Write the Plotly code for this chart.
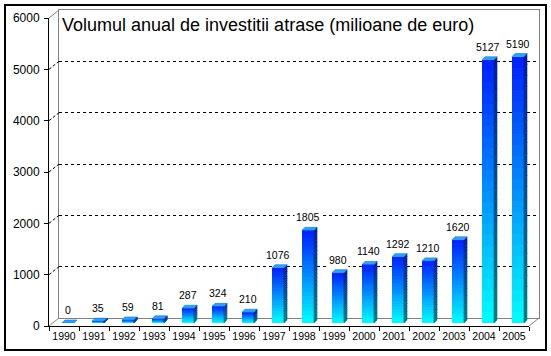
import plotly.graph_objects as go

# ---------------- data ----------------
years = ["1990", "1991", "1992", "1993", "1994", "1995", "1996", "1997",
         "1998", "1999", "2000", "2001", "2002", "2003", "2004", "2005"]
values = [0, 35, 59, 81, 287, 324, 210, 1076, 1805, 980, 1140, 1292, 1210, 1620, 5127, 5190]
y_ticks = [0, 1000, 2000, 3000, 4000, 5000, 6000]
title_text = "Volumul anual de investitii atrase (milioane de euro)"

# ---------------- geometry (pixels) ----------------
W, H = 551, 356
L, R, T, B = 49, 12, 10, 30
PW, PH = W - L - R, H - T - B           # 490 x 316
DEPTH_X, DEPTH_Y = 10, 8                 # back-wall offset
SCALE_PX = 308                           # pixels for 0..6000
YMAX = 6000
N_LEVELS = 24
BAR_W = 0.4
FACE_DX = 0.1                            # side depth in category units (3px)
FACE_DY = 3 * YMAX / SCALE_PX            # side depth in value units (3px)

FONT = "Liberation Sans, Arial, sans-serif"


def front_color(t):
    g = int(round(255 - 225 * t))
    return f"rgb(0,{g},255)"


def side_color(t):
    g = int(round(128 - 100 * t))
    b = int(round(128 + 32 * t))
    return f"rgb(0,{g},{b})"


def py(px_from_top):
    """paper y for a pixel row"""
    return (T + PH - px_from_top) / PH


def px(px_from_left):
    return (px_from_left - L) / PW


fig = go.Figure()
idx = list(range(len(years)))

# dummy trace to build front category axis
fig.add_trace(go.Scatter(x=years, y=[0] * len(years), mode="markers",
                         marker=dict(opacity=0), hoverinfo="skip",
                         showlegend=False, xaxis="x", yaxis="y"))
# dummy trace for back wall subplot
fig.add_trace(go.Scatter(x=[0, 1], y=[0, 0], mode="markers",
                         marker=dict(opacity=0), hoverinfo="skip",
                         showlegend=False, xaxis="x2", yaxis="y2"))

# front faces: stacked gradient segments
for k in range(N_LEVELS):
    t = (k + 0.5) / N_LEVELS
    fig.add_trace(go.Bar(x=idx, y=[v / N_LEVELS for v in values], width=BAR_W,
                         marker=dict(color=front_color(t), line=dict(width=0)),
                         hoverinfo="skip", showlegend=False,
                         xaxis="x3", yaxis="y3"))

# side faces: gradient polygons
for k in range(N_LEVELS):
    t = (k + 0.5) / N_LEVELS
    xs, ys = [], []
    for i, v in zip(idx, values):
        if v <= 0:
            continue
        xr = i + BAR_W / 2
        y0 = v * k / N_LEVELS
        y1 = v * (k + 1) / N_LEVELS
        xs += [xr, xr + FACE_DX, xr + FACE_DX, xr, xr, None]
        ys += [y0, y0 + FACE_DY, y1 + FACE_DY, y1, y0, None]
    fig.add_trace(go.Scatter(x=xs, y=ys, mode="lines", fill="toself",
                             fillcolor=side_color(t), line=dict(width=0.6, color=side_color(t)),
                             hoverinfo="skip", showlegend=False,
                             xaxis="x3", yaxis="y3"))

# top faces
xs, ys = [], []
for i, v in zip(idx, values):
    xl, xr = i - BAR_W / 2, i + BAR_W / 2
    xs += [xl, xl + FACE_DX, xr + FACE_DX, xr, xl, None]
    ys += [v, v + FACE_DY, v + FACE_DY, v, v, None]
fig.add_trace(go.Scatter(x=xs, y=ys, mode="lines", fill="toself",
                         fillcolor="rgb(51,160,255)", line=dict(width=0.6, color="rgb(0,120,200)"),
                         hoverinfo="skip", showlegend=False,
                         xaxis="x3", yaxis="y3"))

# value labels
annotations = []
for i, v in zip(idx, values):
    annotations.append(dict(x=i, y=v, xref="x3", yref="y3", text=str(v),
                            showarrow=False, yanchor="bottom", yshift=5,
                            bgcolor="white",
                            font=dict(family=FONT, size=10.5, color="black")))

# title inside back wall
annotations.append(dict(x=px(60), y=py(25), xref="paper", yref="paper",
                        text=title_text, showarrow=False, xanchor="left", yanchor="middle",
                        font=dict(family=FONT, size=18, color="black")))

# left-wall / floor diagonals
shapes = []
fy = SCALE_PX / PH
for v in y_ticks:
    yf = v / YMAX * fy
    yb = DEPTH_Y / PH + v / YMAX * fy
    inner = 0 < v < YMAX
    shapes.append(dict(type="line", xref="paper", yref="paper",
                       x0=0, y0=yf, x1=DEPTH_X / PW, y1=yb,
                       line=dict(color="black" if inner else "gray", width=1,
                                 dash="3px,2px" if inner else "solid")))
shapes.append(dict(type="line", xref="paper", yref="paper",
                   x0=(PW - DEPTH_X) / PW, y0=0, x1=1, y1=DEPTH_Y / PH,
                   line=dict(color="gray", width=1)))
# outer frame
shapes.append(dict(type="rect", xref="paper", yref="paper",
                   x0=px(5), x1=px(546), y0=py(350), y1=py(5),
                   line=dict(color="black", width=2)))

fig.update_layout(
    template="none",
    width=W, height=H,
    margin=dict(l=L, r=R, t=T, b=B, pad=0, autoexpand=False),
    paper_bgcolor="white", plot_bgcolor="rgba(0,0,0,0)",
    barmode="stack", bargap=0,
    showlegend=False, hovermode=False,
    font=dict(family=FONT, color="black"),
    annotations=annotations, shapes=shapes,
    xaxis=dict(domain=[0, (PW - DEPTH_X) / PW], type="category",
               categoryorder="array", categoryarray=years, anchor="y",
               range=[-0.5, len(years) - 0.5], tickson="boundaries",
               ticks="outside", ticklen=4, tickcolor="black", tickangle=0,
               showline=True, linecolor="black", linewidth=1, automargin=False,
               showgrid=False, zeroline=False, fixedrange=True,
               tickfont=dict(family=FONT, size=10.5, color="black")),
    yaxis=dict(domain=[0, SCALE_PX / PH], range=[0, YMAX], anchor="x",
               tickvals=y_ticks, ticks="outside", ticklen=4, tickcolor="black",
               showline=True, linecolor="black", linewidth=1, automargin=False,
               showgrid=False, zeroline=False, ticklabelstandoff=2,
               tickfont=dict(family=FONT, size=12, color="black")),
    xaxis2=dict(domain=[DEPTH_X / PW, 1], range=[0, 1], showticklabels=False,
                ticks="", showgrid=False, zeroline=False, anchor="y2",
                showline=True, mirror=True, linecolor="gray", linewidth=1),
    yaxis2=dict(domain=[DEPTH_Y / PH, 1], range=[0, YMAX], anchor="x2",
                tickvals=y_ticks[1:-1], showticklabels=False, ticks="",
                showgrid=True, gridcolor="black", gridwidth=1, griddash="3px,3px",
                zeroline=False,
                showline=True, mirror=True, linecolor="gray", linewidth=1),
    xaxis3=dict(domain=[4 / PW, (PW - DEPTH_X + 4) / PW], range=[-0.5, len(years) - 0.5],
                visible=False, anchor="y3"),
    yaxis3=dict(domain=[3 / PH, (3 + SCALE_PX) / PH], range=[0, YMAX],
                visible=False, anchor="x3"),
)

fig.write_html("out.html", config={"displayModeBar": False, "staticPlot": True},
               post_script="document.body.style.margin='0';document.body.style.padding='0';")
